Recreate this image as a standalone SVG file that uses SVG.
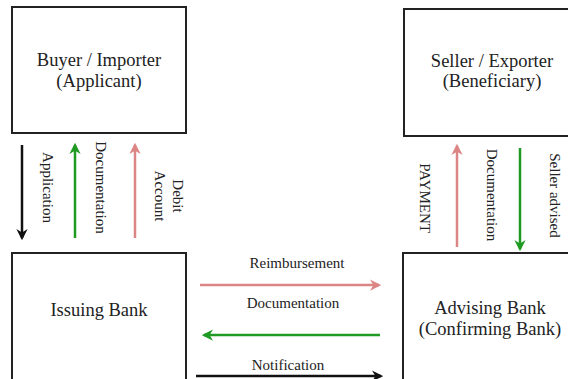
<svg xmlns="http://www.w3.org/2000/svg" width="568" height="379" viewBox="0 0 568 379">
<style>
.box{fill:#fff;stroke:#222;stroke-width:2}
.t{font-family:"Liberation Serif","Times New Roman",serif;font-size:18.5px;fill:#222;text-anchor:middle}
.l{font-family:"Liberation Serif","Times New Roman",serif;font-size:15px;fill:#222;text-anchor:middle}
.k{stroke:#111;stroke-width:2.5;fill:none}
.g{stroke:#1f9a22;stroke-width:2.5;fill:none}
.p{stroke:#dc8585;stroke-width:2.5;fill:none}
</style>
<defs>
<marker id="ak" viewBox="0 0 10 10" refX="8" refY="5" markerWidth="4.5" markerHeight="4.5" orient="auto" markerUnits="strokeWidth"><path d="M0,0 L10,5 L0,10 L3,5 z" fill="#111"/></marker>
<marker id="ag" viewBox="0 0 10 10" refX="8" refY="5" markerWidth="4.5" markerHeight="4.5" orient="auto" markerUnits="strokeWidth"><path d="M0,0 L10,5 L0,10 L3,5 z" fill="#1f9a22"/></marker>
<marker id="ap" viewBox="0 0 10 10" refX="8" refY="5" markerWidth="4.5" markerHeight="4.5" orient="auto" markerUnits="strokeWidth"><path d="M0,0 L10,5 L0,10 L3,5 z" fill="#dc8585"/></marker>
</defs>
<rect width="568" height="379" fill="#fff"/>
<g id="buyer">
<rect class="box" x="12" y="7" width="174" height="126"/>
<text class="t" x="99" y="66">Buyer / Importer</text>
<text class="t" x="99" y="87">(Applicant)</text>
</g>
<g id="seller">
<rect class="box" x="404" y="9" width="175" height="127"/>
<text class="t" x="492" y="67">Seller / Exporter</text>
<text class="t" x="492" y="87">(Beneficiary)</text>
</g>
<g id="issuing">
<rect class="box" x="12" y="253" width="174" height="140"/>
<text class="t" x="99" y="316">Issuing Bank</text>
</g>
<g id="advising">
<rect class="box" x="403" y="253" width="176" height="140"/>
<text class="t" x="490" y="314">Advising Bank</text>
<text class="t" x="490" y="335">(Confirming Bank)</text>
</g>
<g id="connectors">
<line class="k" x1="22" y1="145" x2="22" y2="238" marker-end="url(#ak)"/>
<line class="g" x1="75" y1="238" x2="75" y2="145" marker-end="url(#ag)"/>
<line class="p" x1="135" y1="238" x2="135" y2="145" marker-end="url(#ap)"/>
<line class="p" x1="457" y1="247" x2="457" y2="146" marker-end="url(#ap)"/>
<line class="g" x1="520" y1="148" x2="520" y2="249" marker-end="url(#ag)"/>
<line class="p" x1="200" y1="285" x2="379" y2="285" marker-end="url(#ap)"/>
<line class="g" x1="380" y1="335" x2="204" y2="335" marker-end="url(#ag)"/>
<line class="k" x1="196" y1="376" x2="381" y2="376" marker-end="url(#ak)"/>
<text class="l" transform="translate(43,187.5) rotate(90)">Application</text>
<text class="l" transform="translate(96,187.5) rotate(90)">Documentation</text>
<text class="l" transform="translate(173,196) rotate(90)">Debit</text>
<text class="l" transform="translate(155,196) rotate(90)">Account</text>
<text class="l" transform="translate(420,198) rotate(90)">PAYMENT</text>
<text class="l" transform="translate(487,195) rotate(90)">Documentation</text>
<text class="l" transform="translate(550,195.5) rotate(90)">Seller advised</text>
<text class="l" x="297" y="268">Reimbursement</text>
<text class="l" x="293" y="308">Documentation</text>
<text class="l" x="288" y="370">Notification</text>
</g>
</svg>
